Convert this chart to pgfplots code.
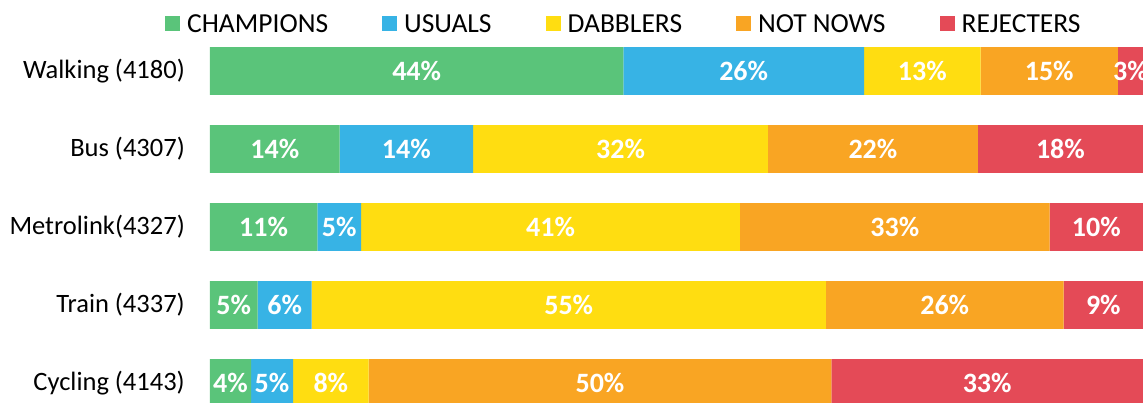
\documentclass[border=0pt]{standalone}
\usepackage{fontspec}
\setmainfont{Carlito}
\usepackage{pgfplots}
\usepackage{pgfplotstable}
\pgfplotsset{compat=1.18}

\definecolor{cChamp}{HTML}{5AC47A}
\definecolor{cUsual}{HTML}{37B3E5}
\definecolor{cDabb}{HTML}{FFDD11}
\definecolor{cNot}{HTML}{F9A523}
\definecolor{cRej}{HTML}{E44A57}

% shares (percent), label = rounded value shown
\pgfplotstableread{
y x lab
0 44.3 44
1 13.9 14
2 11.5 11
3 5.1 5
4 4.4 4
}\champ
\pgfplotstableread{
y x lab
0 25.8 26
1 14.3 14
2 4.7 5
3 5.8 6
4 4.5 5
}\usual
\pgfplotstableread{
y x lab
0 12.5 13
1 31.6 32
2 40.6 41
3 55.1 55
4 8.1 8
}\dabb
\pgfplotstableread{
y x lab
0 14.7 15
1 22.5 22
2 33.2 33
3 25.5 26
4 49.6 50
}\notnow
\pgfplotstableread{
y x lab
0 2.7 3
1 17.7 18
2 10.0 10
3 8.5 9
4 33.4 33
}\rej

\begin{document}
\begin{tikzpicture}
\begin{axis}[
    xbar stacked,
    width=933pt, height=356pt,
    scale only axis,
    xmin=0, xmax=100,
    ymin=-0.3077, ymax=4.256,
    y dir=reverse,
    bar width=47.7pt,
    axis line style={draw=none},
    tick style={draw=none},
    major tick length=0pt,
    xtick=\empty,
    ytick={0,1,2,3,4},
    yticklabels={{Walking (4180)},{Bus (4307)},{Metrolink(4327)},{Train (4337)},{Cycling (4143)}},
    yticklabel style={font=\fontsize{26.5}{30}\selectfont, inner xsep=0pt, xshift=-25pt},
    legend image code/.code={
        \path (-54pt,0pt);
        \fill[#1] (0pt,-7.5pt) rectangle (15pt,7.5pt);
        \path (22pt,0pt);
    },
    legend style={
        at={(axis description cs:-0.1061,1.0646)},
        anchor=west,
        draw=none, fill=none,
        font=\fontsize{27.5}{30}\selectfont,
        inner sep=0pt,
        /tikz/column sep=0pt,
        nodes={inner sep=0pt},
    },
    legend columns=-1,
    segment/.style={
        fill=#1, draw=none,
        nodes near coords={\pgfplotspointmeta\%},
        point meta=explicit symbolic,
        every node near coord/.append style={
            anchor=center,
            text=white,
            font=\fontsize{28}{30}\selectfont\bfseries,
        },
    },
]
\addplot[segment=cChamp] table[x=x, y=y, meta=lab] {\champ};
\addplot[segment=cUsual] table[x=x, y=y, meta=lab] {\usual};
\addplot[segment=cDabb] table[x=x, y=y, meta=lab] {\dabb};
\addplot[segment=cNot] table[x=x, y=y, meta=lab] {\notnow};
\addplot[segment=cRej] table[x=x, y=y, meta=lab] {\rej};
\legend{CHAMPIONS, USUALS, DABBLERS, NOT NOWS, REJECTERS}
\coordinate (ll) at (axis description cs:0,0);
\coordinate (ur) at (axis description cs:1,1);
\end{axis}
\pgfresetboundingbox
\path[use as bounding box] ([xshift=-210pt]ll) rectangle ([yshift=47pt]ur);
\end{tikzpicture}
\end{document}
